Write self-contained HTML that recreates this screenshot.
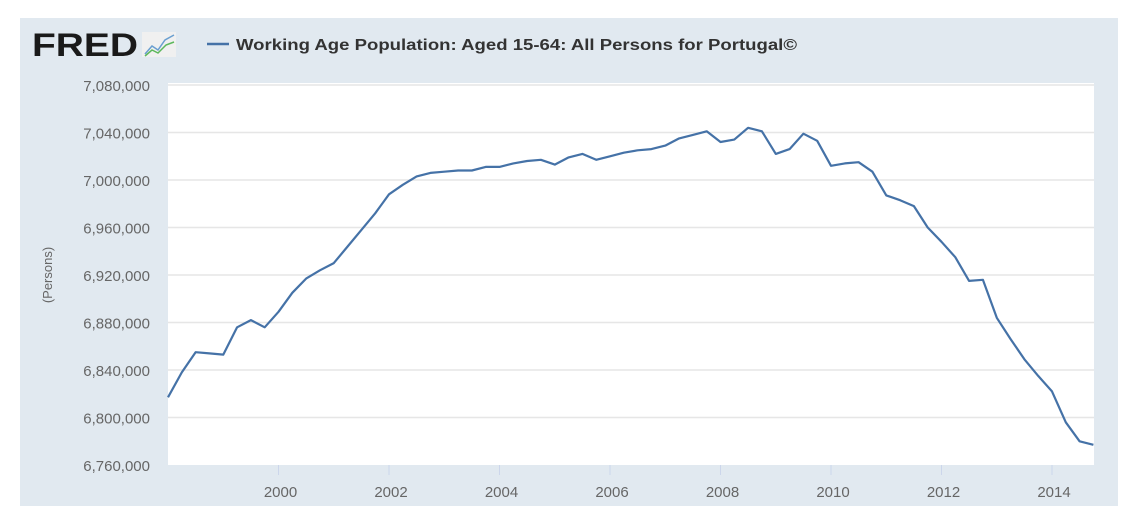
<!DOCTYPE html>
<html><head><meta charset="utf-8"><style>
body{margin:0;background:#fff;font-family:"Liberation Sans",sans-serif}
svg text{font-family:"Liberation Sans",sans-serif}
</style></head><body>
<svg width="1140" height="526" viewBox="0 0 1140 526">
<rect x="20" y="18" width="1098" height="488" fill="#e1e9f0"/>
<rect x="168" y="83" width="926" height="382" fill="#fff"/>
<text x="32" y="56" font-size="32" font-weight="bold" fill="#1a1a1a" textLength="106" lengthAdjust="spacingAndGlyphs">FRED</text>
<g><rect x="142" y="32" width="34" height="25" fill="#f0f0f0"/><polyline points="145,54 152,46 158,50 165,40 174,35" fill="none" stroke="#6a9fd0" stroke-width="1.5"/><polyline points="145,56 152,50 158,53 166,45 174,42" fill="none" stroke="#5cb85c" stroke-width="1.5"/></g>
<line x1="207" y1="44" x2="229" y2="44" stroke="#4572a7" stroke-width="2.5"/>
<text x="236" y="50" font-size="16" font-weight="bold" fill="#333" textLength="561" lengthAdjust="spacingAndGlyphs">Working Age Population: Aged 15-64: All Persons for Portugal©</text>
<text transform="translate(52,275) rotate(-90)" text-anchor="middle" font-size="13" fill="#666">(Persons)</text>
<g id="grid"></g><g id="ylab"></g><g id="xlab"></g><g id="series"></g>
</svg>
<script>
const yTicks=[6760000,6800000,6840000,6880000,6920000,6960000,7000000,7040000,7080000];
const xTicks=[2000,2002,2004,2006,2008,2010,2012,2014];
const startYear=1998;
const values=[6817000,6838000,6855000,6854000,6853000,6876000,6882000,6876000,6889000,6905000,6917000,6924000,6930000,6944000,6958000,6972000,6988000,6996000,7003000,7006000,7007000,7008000,7008000,7011000,7011000,7014000,7016000,7017000,7013000,7019000,7022000,7017000,7020000,7023000,7025000,7026000,7029000,7035000,7038000,7041000,7032000,7034000,7044000,7041000,7022000,7026000,7039000,7033000,7012000,7014000,7015000,7007000,6987000,6983000,6978000,6960000,6948000,6935000,6915000,6916000,6884000,6866000,6849000,6835000,6822000,6796000,6780000,6777000];
const NS='http://www.w3.org/2000/svg';
const x=t=>168+(t-1998)*55.25;
const y=v=>465-(v-6760000)/40000*47.5;
function mk(tag,at,parent){const e=document.createElementNS(NS,tag);for(const k in at)e.setAttribute(k,at[k]);document.getElementById(parent).appendChild(e);return e;}
yTicks.forEach(v=>{
 if(v>6760000){const g=mk('line',{x1:168,x2:1094,y1:y(v),y2:y(v),stroke:'#e6e6e6','stroke-width':1.5},'grid');
 
 }
 const t=mk('text',{x:150,y:y(v)+6,'text-anchor':'end','font-size':15,fill:'#666'},'ylab');
 t.textContent=v.toLocaleString('en-US');
 
 
});
xTicks.forEach(yr=>{
 const l=mk('line',{x1:x(yr),x2:x(yr),y1:465,y2:475,stroke:'#ccd6eb'},'xlab');
 
 
 const t=mk('text',{x:x(yr)+2,y:497,'text-anchor':'middle','font-size':15,fill:'#666'},'xlab');
 t.textContent=yr;
 
 
});
const pts=values.map((v,i)=>x(startYear+i/4).toFixed(1)+','+y(v).toFixed(1)).join(' ');
const p=mk('polyline',{points:pts,fill:'none',stroke:'#4572a7','stroke-width':2.2,'stroke-linejoin':'round'},'series');


</script>
</body></html>
